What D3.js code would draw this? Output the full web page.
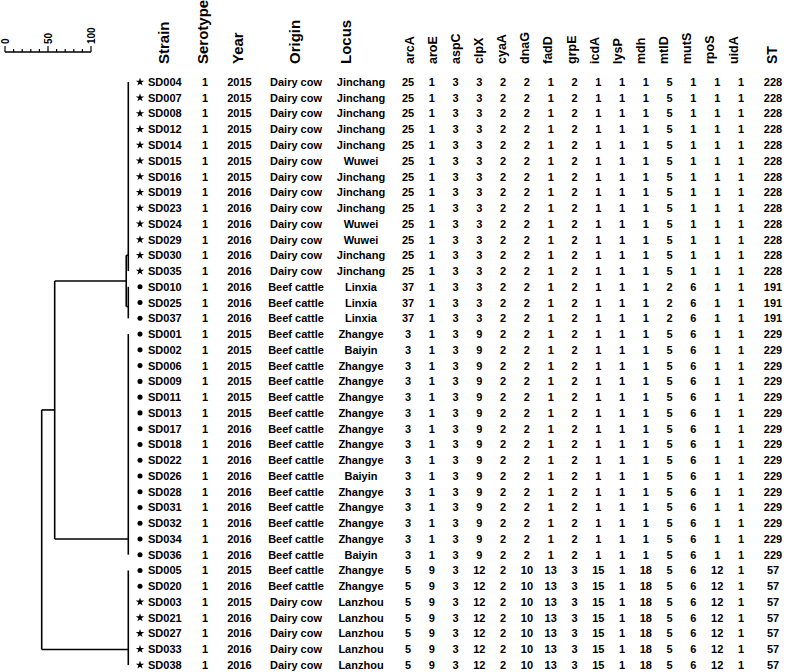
<!DOCTYPE html>
<html>
<head>
<meta charset="utf-8">
<script src="https://cdn.jsdelivr.net/npm/d3@7"></script>
<style>
  body { margin: 0; background: #fff; }
  svg { display: block; font-family: "Liberation Sans", Arial, sans-serif; font-weight: bold; }
</style>
</head>
<body>
<svg id="chart" width="787" height="672"></svg>
<script>
// данные таблицы
const strains = ['SD004', 'SD007', 'SD008', 'SD012', 'SD014', 'SD015', 'SD016', 'SD019', 'SD023', 'SD024',
  'SD029', 'SD030', 'SD035', 'SD010', 'SD025', 'SD037', 'SD001', 'SD002', 'SD006', 'SD009',
  'SD011', 'SD013', 'SD017', 'SD018', 'SD022', 'SD026', 'SD028', 'SD031', 'SD032', 'SD034',
  'SD036', 'SD005', 'SD020', 'SD003', 'SD021', 'SD027', 'SD033', 'SD038'];
const serotypes = Array(38).fill(1);
const years = [2015, 2015, 2015, 2015, 2015, 2015, 2015, 2016, 2016, 2016,
  2016, 2016, 2016, 2016, 2016, 2016, 2015, 2015, 2015, 2015,
  2015, 2015, 2016, 2016, 2016, 2016, 2016, 2016, 2016, 2016,
  2016, 2015, 2016, 2015, 2016, 2016, 2016, 2016];
const origins = [
  ...Array(13).fill('Dairy cow'),
  ...Array(20).fill('Beef cattle'),
  ...Array(5).fill('Dairy cow')];
const places = ['Jinchang', 'Jinchang', 'Jinchang', 'Jinchang', 'Jinchang', 'Wuwei', 'Jinchang', 'Jinchang', 'Jinchang', 'Wuwei',
  'Wuwei', 'Jinchang', 'Jinchang', 'Linxia', 'Linxia', 'Linxia', 'Zhangye', 'Baiyin', 'Zhangye', 'Zhangye',
  'Zhangye', 'Zhangye', 'Zhangye', 'Zhangye', 'Zhangye', 'Baiyin', 'Zhangye', 'Zhangye', 'Zhangye', 'Zhangye',
  'Baiyin', 'Zhangye', 'Zhangye', 'Lanzhou', 'Lanzhou', 'Lanzhou', 'Lanzhou', 'Lanzhou'];
const sts = [...Array(13).fill(228), ...Array(3).fill(191), ...Array(15).fill(229), ...Array(7).fill(57)];

const loci = ['arcA', 'aroE', 'aspC', 'clpX', 'cyaA', 'dnaG', 'fadD', 'grpE', 'icdA', 'lysP', 'mdh', 'mtlD', 'mutS', 'rpoS', 'uidA'];
const profile228 = [25, 1, 3, 3, 2, 2, 1, 2, 1, 1, 1, 5, 1, 1, 1];
const profile191 = [37, 1, 3, 3, 2, 2, 1, 2, 1, 1, 1, 2, 6, 1, 1];
const profile229 = [3, 1, 3, 9, 2, 2, 1, 2, 1, 1, 1, 5, 6, 1, 1];
const profile57 = [5, 9, 3, 12, 2, 10, 13, 3, 15, 1, 18, 5, 6, 12, 1];
const profiles = { 228: profile228, 191: profile191, 229: profile229, 57: profile57 };

// дерево (сходство, %), листья-кластеры по ST
const tree = { sim: 0, children: [
  { sim: 15, children: [
    { sim: 97.6, children: [{ st: 228 }, { st: 191 }] },
    { st: 229 }
  ] },
  { st: 57 }
] };
const scaleTicks = [0, 50, 100];

const svg = d3.select('#chart');

const y = d3.scalePoint().domain(d3.range(strains.length)).range([82, 665]);
const xSim = d3.scaleLinear().domain([0, 100]).range([41.7, 128.3]);
const xLocusHead = d3.scalePoint().domain(loci).range([409, 733]);
const xLocusData = d3.scalePoint().domain(loci).range([408, 741]);

// шкала
const bar = d3.scaleLinear().domain([0, 100]).range([5, 91]);
const gBar = svg.append('g').attr('transform', 'translate(0,52)');
gBar.append('line').attr('x1', bar(0)).attr('x2', bar(100)).attr('stroke', '#000').attr('stroke-width', 1.5);
gBar.selectAll('.tk').data(d3.range(0, 101, 10)).enter().append('line')
  .attr('x1', d => bar(d)).attr('x2', d => bar(d))
  .attr('y1', 0).attr('y2', d => d % 50 === 0 ? -6 : -3)
  .attr('stroke', '#000').attr('stroke-width', 1.2);
gBar.selectAll('.lb').data(scaleTicks).enter().append('text')
  .attr('transform', d => `translate(${bar(d) + 3.5},-8) rotate(-90)`)
  .attr('font-size', 10)
  .text(d => d);

// дендрограмма
const g = svg.append('g').attr('stroke', '#000').attr('stroke-width', 1.6).attr('fill', 'none');
function line(x1, y1, x2, y2) {
  g.append('line').attr('x1', x1).attr('y1', y1).attr('x2', x2).attr('y2', y2);
}
function drawNode(node) {
  if (node.st !== undefined) {
    const rows = d3.range(strains.length).filter(i => sts[i] === node.st);
    line(xSim(100), y(rows[0]), xSim(100), y(rows[rows.length - 1]));
    let cur = y(rows[0]);
    rows.slice(1).forEach(r => { cur = (cur + y(r)) / 2; });
    return { x: xSim(100), y: cur };
  }
  const kids = node.children.map(drawNode);
  const x = xSim(node.sim);
  line(x, d3.min(kids, k => k.y), x, d3.max(kids, k => k.y));
  kids.forEach(k => line(x, k.y, k.x, k.y));
  return { x, y: d3.mean(kids, k => k.y) };
}
drawNode(tree);

// заголовки
const heads = [
  ['Strain', 164, 15], ['Serotype', 203, 15], ['Year', 238, 15], ['Origin', 295, 15], ['Locus', 346, 15],
  ...loci.map(l => [l, xLocusHead(l), 12.5]), ['ST', 772, 14]];
svg.selectAll('.head').data(heads).enter().append('text')
  .attr('transform', d => `translate(${d[1] + d[2] * 0.36},64) rotate(-90)`)
  .attr('font-size', d => d[2])
  .text(d => d[0]);

// строки
const rows = svg.selectAll('.row').data(d3.range(strains.length)).enter().append('g')
  .attr('transform', i => `translate(0,${y(i)})`)
  .attr('font-size', 11);
rows.append('path')
  .attr('transform', 'translate(140,0)')
  .attr('d', i => d3.symbol(origins[i] === 'Dairy cow' ? d3.symbolStar : d3.symbolCircle,
    origins[i] === 'Dairy cow' ? 22 : 20)());
rows.append('text').attr('x', 148).attr('dy', '0.36em').text(i => strains[i]);
rows.append('text').attr('x', 205).attr('dy', '0.36em').attr('text-anchor', 'middle').text(i => serotypes[i]);
rows.append('text').attr('x', 239.5).attr('dy', '0.36em').attr('text-anchor', 'middle').text(i => years[i]);
rows.append('text').attr('x', 296).attr('dy', '0.36em').attr('text-anchor', 'middle').text(i => origins[i]);
rows.append('text').attr('x', 361).attr('dy', '0.36em').attr('text-anchor', 'middle').text(i => places[i]);
loci.forEach((l, j) => {
  rows.append('text').attr('x', xLocusData(l)).attr('dy', '0.36em').attr('text-anchor', 'middle')
    .text(i => profiles[sts[i]][j]);
});
rows.append('text').attr('x', 773).attr('dy', '0.36em').attr('text-anchor', 'middle').text(i => sts[i]);
</script>
</body>
</html>
